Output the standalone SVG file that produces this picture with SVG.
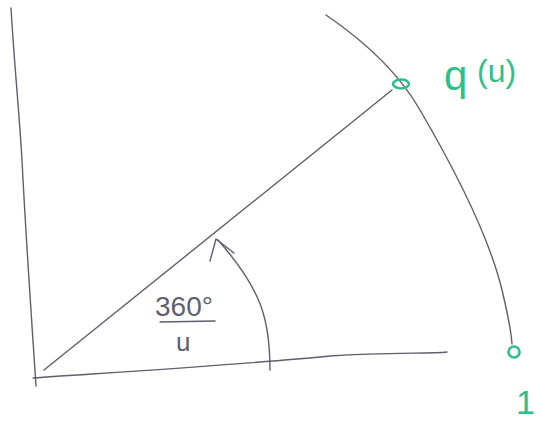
<svg xmlns="http://www.w3.org/2000/svg" width="542" height="423" viewBox="0 0 542 423">
<style>
.pen{fill:none;stroke:#5f5f6e;stroke-width:1.4;stroke-linecap:round;stroke-linejoin:round}
.grn{fill:none;stroke:#2fbf8a;stroke-width:2.6}
.gt{fill:#2fbf8a;font-family:"Liberation Sans",Arial,sans-serif}
.lt{fill:#5f5f6e;font-family:"Liberation Sans",Arial,sans-serif}
</style>
<rect width="542" height="423" fill="#ffffff"/>
<g id="axes">
<path class="pen" d="M11,8 C14,60 19,110 22,160 C26,240 31,310 36,386"/>
<path class="pen" d="M33,378 C120,372 250,364 330,356 C390,352 430,354 447,352"/>
</g>
<g id="connectors">
<path class="pen" d="M44,370 L392,90"/>
<path class="pen" d="M326,15 C370,45 400,75 420,110 C455,170 490,240 502,290 C508,315 511,330 512,344"/>
<path class="pen" stroke-width="1.8" d="M270,370 C270,320 262,290 218,240"/>
<path class="pen" stroke-width="1.8" d="M210,261 L216,239 L234,253"/>
</g>
<g id="q">
<ellipse class="grn" cx="401" cy="84" rx="8" ry="4.5"/>
<text class="gt" x="444" y="90" font-size="42">q</text>
<text class="gt" x="477" y="82" font-size="32">(u)</text>
</g>
<g id="one">
<circle class="grn" cx="514" cy="352" r="5.5"/>
<text class="gt" x="516" y="414" font-size="34">1</text>
</g>
<g id="angle">
<text class="lt" x="155" y="316" font-size="28">360°</text>
<path class="pen" stroke-width="2" d="M160,322 L215,321"/>
<text class="lt" x="176" y="351" font-size="26">u</text>
</g>
</svg>
